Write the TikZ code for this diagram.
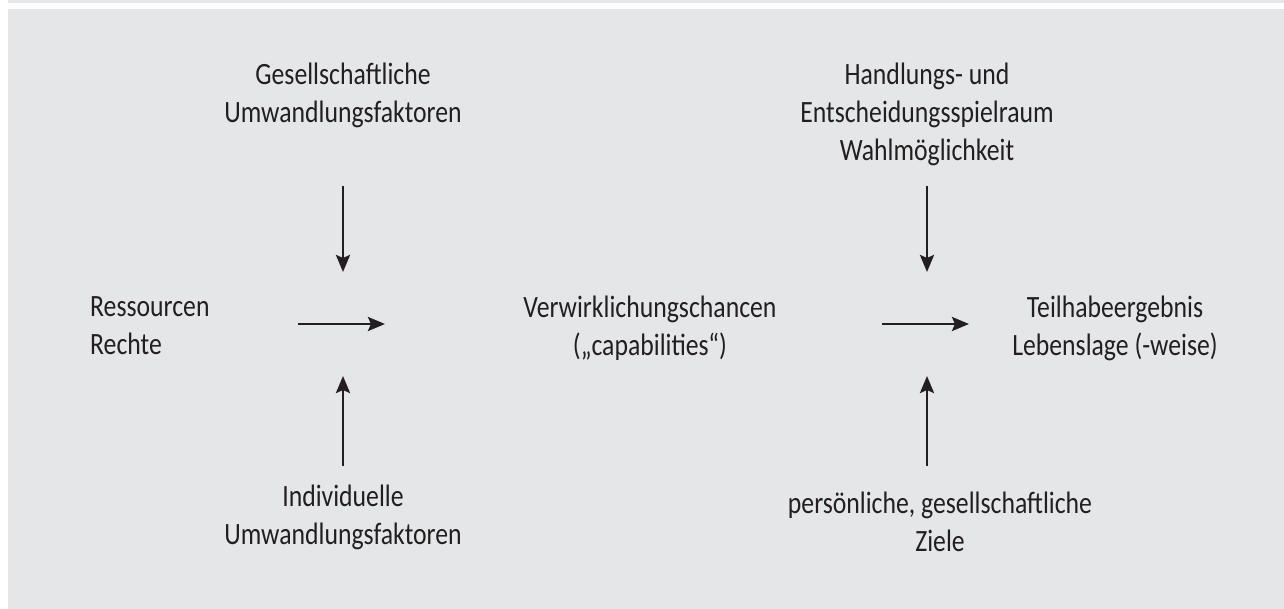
\documentclass[tikz,border=0pt]{standalone}
\usepackage{fontspec}
\setmainfont{Carlito}[FakeStretch=0.83]
\usetikzlibrary{arrows.meta}
\definecolor{panelgrey}{HTML}{E5E6E8}
\definecolor{inkblack}{HTML}{231F20}

\begin{document}
\begin{tikzpicture}[x=1pt,y=-1pt]
      \tikzstyle{every node} = [text=inkblack, inner sep=0pt, font=\fontsize{31}{38}\selectfont]
      \tikzstyle{flow} = [draw=inkblack, line width=2.8pt, -{Stealth[length=17pt,width=14pt,inset=3pt]}]
      \useasboundingbox (0,0) rectangle (1284,609);
      \fill[panelgrey] (8,0) rectangle (1284,3);
      \fill[panelgrey] (8,9) rectangle (1284,609);

      % arrow ends, left (l) and right (r) block
      \foreach \x/\n in {343/l,927/r}{
        \coordinate (top\n) at (\x,186);
        \coordinate (tip\n) at (\x,272);
        \coordinate (bot\n) at (\x,466);
        \coordinate (head\n) at (\x,376);
        \coordinate (from\n) at (\x-45,324);
        \coordinate (to\n) at (\x+42,324);
      }

      \node[align=center] (gesell) at (343,95) {Gesellschaftliche\\Umwandlungsfaktoren};
      \node[align=center] (indiv) at (343,517) {Individuelle\\Umwandlungsfaktoren};
      \node[align=left, anchor=west] (res) at (90,326) {Ressourcen\\Rechte};
      \node[align=center] (cap) at (650,328) {Verwirklichungschancen\\(„capabilities“)};
      \node[align=center] (spiel) at (927,114) {Handlungs- und\\Entscheidungsspielraum\\Wahlmöglichkeit};
      \node[align=center] (teil) at (1115,328) {Teilhabeergebnis\\Lebenslage (-weise)};
      \node[align=center] (ziele) at (940,522) {persönliche, gesellschaftliche\\Ziele};

      \path
      (topl) edge[flow] (tipl)
      (botl) edge[flow] (headl)
      (froml) edge[flow] (tol);
      \path
      (topr) edge[flow] (tipr)
      (botr) edge[flow] (headr)
      (fromr) edge[flow] (tor);
\end{tikzpicture}
\end{document}
